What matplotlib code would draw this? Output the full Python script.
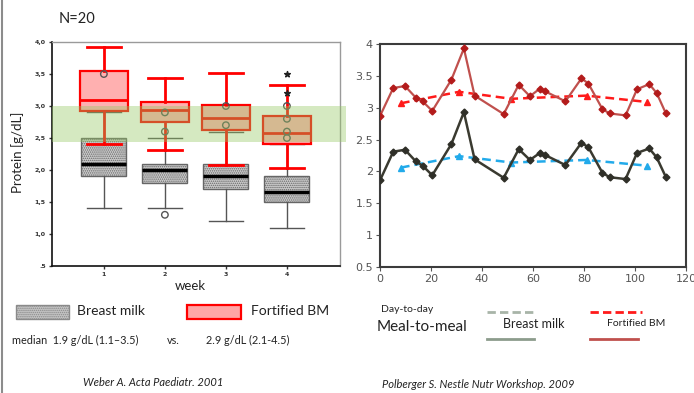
import matplotlib
matplotlib.use("Agg")
import matplotlib.pyplot as plt
from matplotlib.patches import Rectangle
from matplotlib.lines import Line2D

plt.rcParams['font.family'] = ['Lato', 'DejaVu Sans']
plt.rcParams['hatch.color'] = '#5a5a5a'
plt.rcParams['hatch.linewidth'] = 0.7

# --- left panel: protein by week (box plots) ---
weeks = [1, 2, 3, 4]
week_labels = ['1', '2', '3', '4']

bm_lo = [1.4, 1.4, 1.2, 1.1]
bm_q1 = [1.9, 1.8, 1.7, 1.5]
bm_med = [2.1, 2.0, 1.9, 1.65]
bm_q3 = [2.5, 2.1, 2.1, 1.9]
bm_hi = [2.9, 2.5, 2.6, 2.4]

fbm_lo = [2.40, 2.32, 2.08, 2.03]
fbm_q1 = [2.92, 2.75, 2.63, 2.40]
fbm_med = [3.10, 2.93, 2.82, 2.58]
fbm_q3 = [3.55, 3.06, 3.01, 2.84]
fbm_hi = [3.92, 3.43, 3.52, 3.33]

circle_week = [1, 2, 2, 2, 3, 3, 4, 4, 4, 4]
circle_val = [3.5, 2.9, 2.6, 1.3, 3.0, 2.7, 3.0, 2.8, 2.6, 2.5]
star_week = [4, 4]
star_val = [3.5, 3.2]

yticks_left = [0.5, 1.0, 1.5, 2.0, 2.5, 3.0, 3.5, 4.0]
yticklabels_left = ['.5', '1,0', '1,5', '2,0', '2,5', '3,0', '3,5', '4,0']

band_lo, band_hi = 2.44, 3.0

# --- right panel: protein over time ---
days = [0, 5.2, 9.8, 14, 16.7, 20.5, 28, 32.9, 37.1, 48.5, 54.4, 58.8,
        62.7, 64.6, 72.7, 79, 81.7, 87.2, 90, 96.3, 100.8, 105.6, 108.5, 112]
fbm_meal = [2.87, 3.31, 3.34, 3.16, 3.10, 2.95, 3.44, 3.93, 3.19, 2.90, 3.36, 3.18,
            3.30, 3.26, 3.10, 3.46, 3.38, 2.98, 2.91, 2.88, 3.29, 3.37, 3.23, 2.92]
bm_meal = [1.86, 2.31, 2.34, 2.16, 2.09, 1.94, 2.43, 2.93, 2.19, 1.90, 2.35, 2.18,
           2.29, 2.26, 2.10, 2.45, 2.38, 1.98, 1.91, 1.88, 2.29, 2.36, 2.22, 1.92]

day_avg_x = [8.2, 31, 51.5, 81, 104.8]
fbm_day = [3.07, 3.25, 3.14, 3.19, 3.09]
bm_day = [2.06, 2.24, 2.14, 2.18, 2.09]

W, H = 694, 393
fig = plt.figure(figsize=(W / 100, H / 100), dpi=100)
txt = '#222222'


def fx(px):
    return px / W


def fy(py):
    return 1 - py / H


# left axes
ax = fig.add_axes([fx(52), fy(266), fx(340) - fx(52), fy(42) - fy(266)])
ax.set_xlim(0.15, 4.87)
ax.set_ylim(0.5, 4.0)

bm_stats = [dict(whislo=bm_lo[i], q1=bm_q1[i], med=bm_med[i], q3=bm_q3[i],
                 whishi=bm_hi[i], fliers=[]) for i in range(4)]
fbm_stats = [dict(whislo=fbm_lo[i], q1=fbm_q1[i], med=fbm_med[i], q3=fbm_q3[i],
                  whishi=fbm_hi[i], fliers=[]) for i in range(4)]

ax.bxp(bm_stats, positions=weeks, widths=0.74, capwidths=0.55,
       patch_artist=True, showfliers=False, manage_ticks=False,
       boxprops=dict(facecolor='#cccccc', edgecolor='#666666', lw=1.0, hatch='........'),
       whiskerprops=dict(color='#555555', lw=1.0),
       capprops=dict(color='#555555', lw=1.0),
       medianprops=dict(color='black', lw=2.5))

ax.scatter(circle_week, circle_val, s=22, facecolors='none', edgecolors='#555555',
           lw=1.0, zorder=3)
ax.scatter(star_week, star_val, s=18, marker='*', color='#222222', zorder=3)

ax.bxp(fbm_stats, positions=weeks, widths=0.78, capwidths=0.55,
       patch_artist=True, showfliers=False, manage_ticks=False,
       boxprops=dict(facecolor='#ffb0b0', edgecolor='red', lw=1.6),
       whiskerprops=dict(color='red', lw=2.0),
       capprops=dict(color='red', lw=2.0),
       medianprops=dict(color='red', lw=2.0))

# green reference band, runs a little past the right spine
ax.axhspan(band_lo, band_hi, xmin=0, xmax=(346 - 52) / 288, facecolor='#96c864',
           alpha=0.4, lw=0, clip_on=False, zorder=6)

ax.set_xticks(weeks)
ax.set_xticklabels(week_labels, fontfamily='DejaVu Sans', fontweight='bold')
ax.set_yticks(yticks_left)
ax.set_yticklabels(yticklabels_left, fontfamily='DejaVu Sans', fontweight='bold')
ax.tick_params(labelsize=4.5, length=2.5, width=1, colors='#333333', pad=2)
for s in ['left', 'bottom']:
    ax.spines[s].set_color('#111111')
    ax.spines[s].set_linewidth(1.2)
for s in ['top', 'right']:
    ax.spines[s].set_color('#9a9a9a')
    ax.spines[s].set_linewidth(1.0)

fig.text(fx(77), fy(19), 'N=20', fontsize=10.5, color=txt, ha='center', va='center')
fig.text(fx(18), fy(152), 'Protein [g/dL]', fontsize=9.5, color=txt, rotation=90,
         ha='center', va='center')
fig.text(fx(190), fy(286), 'week', fontsize=9.5, color=txt, ha='center', va='center')

# left legend and summary text
fig.patches.append(Rectangle((fx(16), fy(319)), fx(69) - fx(16), fy(305) - fy(319),
                             transform=fig.transFigure, facecolor='#c4c4c4',
                             edgecolor='#8a8a8a', lw=1.0, hatch='........'))
fig.text(fx(77), fy(311), 'Breast milk', fontsize=10, color=txt, va='center')
fig.patches.append(Rectangle((fx(187), fy(319)), fx(241) - fx(187), fy(305) - fy(319),
                             transform=fig.transFigure, facecolor='#ffa6a6',
                             edgecolor='red', lw=1.6))
fig.text(fx(251), fy(311), 'Fortified BM', fontsize=10, color=txt, va='center')
fig.text(fx(12), fy(340), 'median  1.9 g/dL (1.1\u20133.5)', fontsize=7.8, color=txt, va='center')
fig.text(fx(167), fy(340), 'vs.', fontsize=7.8, color=txt, va='center')
fig.text(fx(206), fy(340), '2.9 g/dL (2.1-4.5)', fontsize=7.8, color=txt, va='center')
fig.text(fx(153), fy(383), 'Weber A. Acta Paediatr. 2001', fontsize=8, style='italic',
         color=txt, ha='center', va='center')

# right axes
ax2 = fig.add_axes([fx(380), fy(267), fx(686) - fx(380), fy(44) - fy(267)])
ax2.plot(days, fbm_meal, color='#c0504d', lw=1.6, marker='D', ms=3.5,
         mfc='#b31b1b', mec='#b31b1b', zorder=3)
ax2.plot(days, bm_meal, color='#3a3a30', lw=1.8, marker='D', ms=3.5,
         mfc='#2f2f28', mec='#2f2f28', zorder=3)
ax2.plot(day_avg_x, fbm_day, color='#ff1a1a', lw=1.8, ls=(0, (3.5, 2)), marker='^',
         ms=5, zorder=2)
ax2.plot(day_avg_x, bm_day, color='#22aaea', lw=1.8, ls=(0, (3.5, 2)), marker='^',
         ms=5, zorder=2)
ax2.set_xlim(0, 120)
ax2.set_ylim(0.5, 4.0)
ax2.set_xticks([0, 20, 40, 60, 80, 100, 120])
ax2.set_yticks([0.5, 1, 1.5, 2, 2.5, 3, 3.5, 4])
ax2.set_yticklabels(['0.5', '1', '1.5', '2', '2.5', '3', '3.5', '4'])
ax2.tick_params(labelsize=8, length=3, width=0.8, colors='#555555', pad=2,
                labelfontfamily='DejaVu Sans')
for s in ax2.spines.values():
    s.set_color('#3c3c3c')
    s.set_linewidth(1.5)

# right legend
fig.text(fx(381), fy(309), 'Day-to-day', fontsize=7.5, color=txt, va='center')
fig.text(fx(377), fy(327), 'Meal-to-meal', fontsize=11, color=txt, va='center')
fig.text(fx(503), fy(324), 'Breast milk', fontsize=9, color=txt, va='center')
fig.text(fx(607), fy(323), 'Fortified BM', fontsize=7.5, color=txt, va='center')
fig.lines.append(Line2D([fx(487), fx(534)], [fy(312), fy(312)], transform=fig.transFigure,
                        color='#a8b4a8', lw=2, ls=(0, (3, 1.5))))
fig.lines.append(Line2D([fx(590), fx(642)], [fy(312), fy(312)], transform=fig.transFigure,
                        color='#ff1a1a', lw=2, ls=(0, (3, 1.5))))
fig.lines.append(Line2D([fx(487), fx(534)], [fy(339), fy(339)], transform=fig.transFigure,
                        color='#8c9c8c', lw=2))
fig.lines.append(Line2D([fx(590), fx(638)], [fy(339), fy(339)], transform=fig.transFigure,
                        color='#c0504d', lw=2))
fig.text(fx(478), fy(384), 'Polberger S. Nestle Nutr Workshop. 2009', fontsize=8,
         style='italic', color=txt, ha='center', va='center')

# slide edge on the left
fig.lines.append(Line2D([fx(2), fx(2)], [0, 1], transform=fig.transFigure,
                        color='#8c8c8c', lw=1.5))

fig.savefig('out.png', dpi=100)
